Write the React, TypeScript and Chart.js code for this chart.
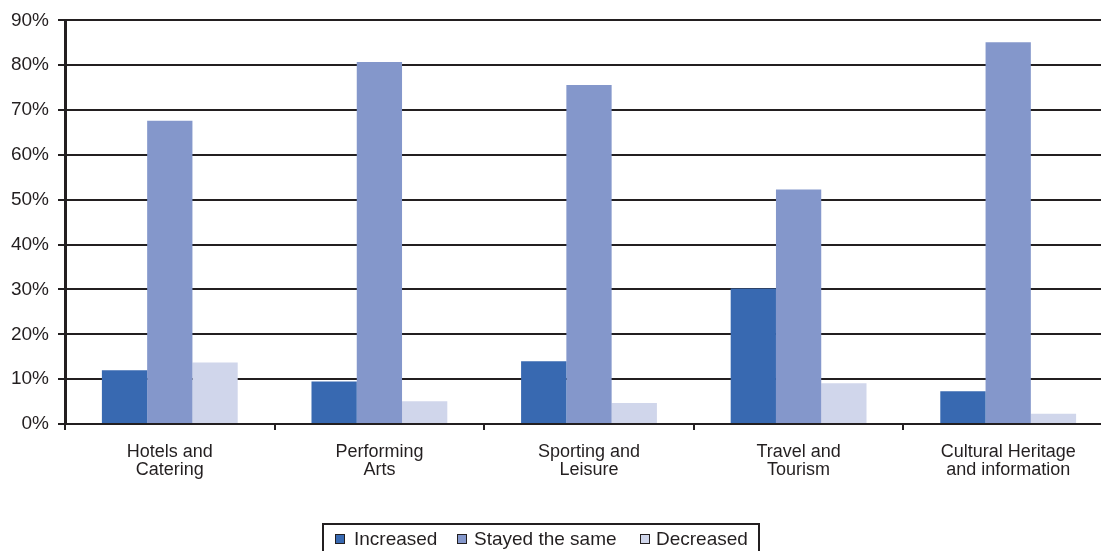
import React, { useEffect, useRef } from "react";
import { Chart, registerables } from "chart.js";

Chart.register(...registerables);

const categories: string[][] = [
  ["Hotels and", "Catering"],
  ["Performing", "Arts"],
  ["Sporting and", "Leisure"],
  ["Travel and", "Tourism"],
  ["Cultural Heritage", "and information"],
];
const increased = [12.0, 9.5, 14.0, 30.2, 7.3];
const stayedTheSame = [67.6, 80.7, 75.6, 52.3, 85.1];
const decreased = [13.7, 5.1, 4.7, 9.1, 2.3];
const seriesNames = ["Increased", "Stayed the same", "Decreased"];
const colors = ["#3869B1", "#8497CB", "#D0D6EB"];
const yTicks = [0, 10, 20, 30, 40, 50, 60, 70, 80, 90];

const FONT = "'Liberation Sans', Arial, sans-serif";

export default function App() {
  const ref = useRef<HTMLCanvasElement | null>(null);
  useEffect(() => {
    if (!ref.current) return;
    const chart = new Chart(ref.current, {
      type: "bar",
      data: {
        labels: categories,
        datasets: [increased, stayedTheSame, decreased].map((d, i) => ({
          label: seriesNames[i],
          data: d,
          backgroundColor: colors[i],
          borderWidth: 0,
          categoryPercentage: 0.648,
          barPercentage: 1.0,
        })),
      },
      options: {
        responsive: false,
        animation: false,
        layout: { padding: { top: 17, right: 5, left: 0, bottom: 0 } },
        plugins: { legend: { display: false }, tooltip: { enabled: false } },
        scales: {
          x: {
            offset: true,
            grid: {
              offset: true,
              drawOnChartArea: false,
              drawTicks: true,
              tickLength: 6,
              color: "#231f20",
              lineWidth: 2,
            },
            border: { display: true, color: "#231f20", width: 2 },
            ticks: {
              color: "#231f20",
              font: { family: FONT, size: 18, lineHeight: 1.0 },
              padding: 13,
              maxRotation: 0,
              autoSkip: false,
            },
            afterFit: (s: any) => {
              s.height = 127;
            },
          },
          y: {
            min: 0,
            max: 90,
            afterBuildTicks: (s: any) => {
              s.ticks = yTicks.map((v) => ({ value: v }));
            },
            grid: {
              color: "#231f20",
              lineWidth: 2,
              drawTicks: true,
              tickLength: 7,
            },
            border: { display: true, color: "#231f20", width: 3 },
            ticks: {
              color: "#231f20",
              font: { family: FONT, size: 19 },
              padding: 9,
              callback: (v: any) => v + "%",
            },
            afterFit: (s: any) => {
              s.width = 65;
            },
          },
        },
      },
    });
    return () => chart.destroy();
  }, []);

  const squareLeft = [11, 133, 316];
  const textLeft = [30, 150, 332];

  return (
    <div
      style={{
        position: "absolute",
        left: 0,
        top: 0,
        width: 1101,
        height: 551,
        overflow: "hidden",
        background: "#fff",
      }}
    >
      <canvas ref={ref} width={1118} height={551} style={{ display: "block" }} />
      <div
        style={{
          position: "absolute",
          left: 322,
          top: 523,
          width: 438,
          height: 40,
          border: "2px solid #231f20",
          boxSizing: "border-box",
          fontFamily: FONT,
          fontSize: 19,
          color: "#231f20",
        }}
      >
        {seriesNames.map((name, i) => (
          <React.Fragment key={name}>
            <span
              style={{
                position: "absolute",
                left: squareLeft[i],
                top: 9,
                width: 10,
                height: 10,
                background: colors[i],
                border: "1px solid #231f20",
                boxSizing: "border-box",
              }}
            />
            <span
              style={{
                position: "absolute",
                left: textLeft[i],
                top: 3,
                lineHeight: "22px",
                whiteSpace: "nowrap",
              }}
            >
              {name}
            </span>
          </React.Fragment>
        ))}
      </div>
    </div>
  );
}
